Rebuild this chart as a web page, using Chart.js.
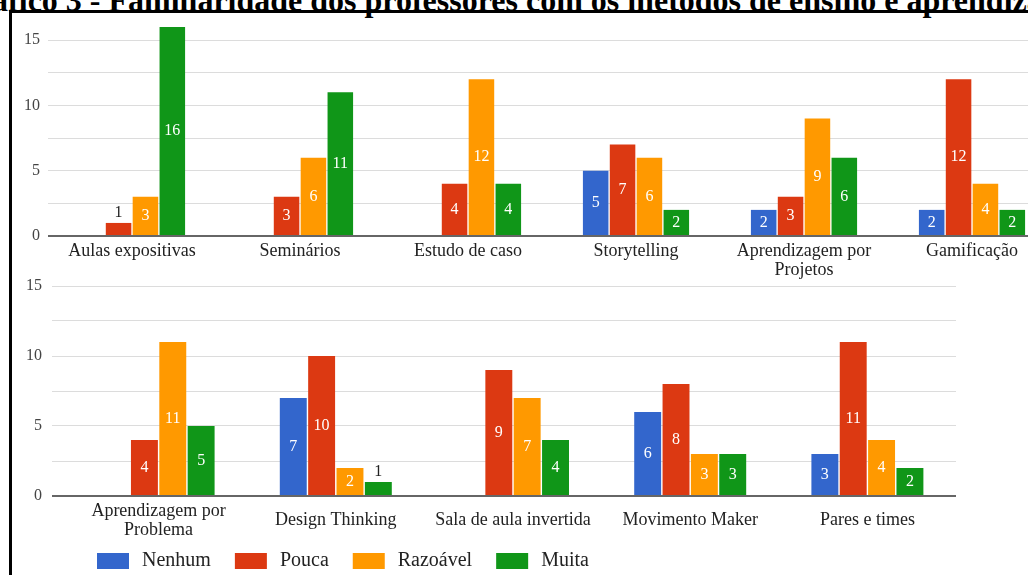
<!DOCTYPE html>
<html lang="pt">
<head>
<meta charset="utf-8">
<title>Familiaridade dos professores com os métodos de ensino e aprendizagem</title>
<script src="https://cdn.jsdelivr.net/npm/chart.js@4/dist/chart.umd.min.js"></script>
<style>
  html, body { margin: 0; padding: 0; background: #fff; }
  body { width: 1028px; height: 575px; overflow: hidden; position: relative; }
  #caption {
    position: absolute; left: -47px; top: -18px; line-height: 32px;
    white-space: nowrap; font: bold 32px "Liberation Serif", serif; color: #000;
  }
  #frame {
    position: absolute; left: 9px; top: 10px; width: 1040px; height: 600px;
    border-top: 3px solid #000; border-left: 3px solid #000;
  }
  #c1 { position: absolute; left: 0; top: 0; }
  #c2 { position: absolute; left: 0; top: 250px; }
</style>
</head>
<body>
<div id="caption">Gráfico 3 - Familiaridade dos professores com os métodos de ensino e aprendizagem</div>
<div id="frame"></div>
<canvas id="c1" width="1060" height="290"></canvas>
<canvas id="c2" width="1028" height="325"></canvas>
<script>
// Familiarity levels and their colours
const seriesNames = ['Nenhum', 'Pouca', 'Razoável', 'Muita'];
const seriesColors = ['#3366cc', '#dc3912', '#ff9900', '#109618'];

// First row of teaching methods
const topCategories = ['Aulas expositivas', 'Seminários', 'Estudo de caso', 'Storytelling',
  ['Aprendizagem por', 'Projetos'], 'Gamificação'];
const topNenhum   = [0, 0, 0, 5, 2, 2];
const topPouca    = [1, 3, 4, 7, 3, 12];
const topRazoavel = [3, 6, 12, 6, 9, 4];
const topMuita    = [16, 11, 4, 2, 6, 2];

// Second row of teaching methods
const bottomCategories = [['Aprendizagem por', 'Problema'], 'Design Thinking',
  'Sala de aula invertida', 'Movimento Maker', 'Pares e times'];
const bottomNenhum   = [0, 7, 0, 6, 3];
const bottomPouca    = [4, 10, 9, 8, 11];
const bottomRazoavel = [11, 2, 7, 3, 4];
const bottomMuita    = [5, 1, 4, 3, 2];

// Value axis: grid every 2.5, labels every 5
const gridValues = [0, 2.5, 5, 7.5, 10, 12.5, 15];
const tickLabels = [0, 5, 10, 15];

const SERIF = '"Liberation Serif", "Times New Roman", serif';

// Writes each bar's value inside it, or just above it when the bar is too short
const valueLabels = {
  id: 'valueLabels',
  afterDatasetsDraw(chart) {
    const ctx = chart.ctx;
    ctx.save();
    ctx.font = '16px ' + SERIF;
    ctx.textAlign = 'center';
    chart.data.datasets.forEach((ds, di) => {
      chart.getDatasetMeta(di).data.forEach((bar, i) => {
        const v = ds.data[i];
        if (!v) return;
        const h = bar.base - bar.y;
        if (h >= 20) {
          ctx.fillStyle = '#ffffff';
          ctx.textBaseline = 'middle';
          ctx.fillText(String(v), bar.x, (bar.y + bar.base) / 2);
        } else {
          ctx.fillStyle = '#222222';
          ctx.textBaseline = 'bottom';
          ctx.fillText(String(v), bar.x, bar.y - 2);
        }
      });
    });
    ctx.restore();
  }
};

// One-row legend: a colour box and the series name for every dataset
const legendRow = {
  id: 'legendRow',
  afterDraw(chart, args, opts) {
    const ctx = chart.ctx;
    ctx.save();
    ctx.font = opts.font;
    ctx.textAlign = 'left';
    ctx.textBaseline = 'middle';
    let x = opts.x;
    chart.data.datasets.forEach(ds => {
      ctx.fillStyle = ds.backgroundColor;
      ctx.fillRect(x, opts.y - opts.boxHeight / 2, opts.boxWidth, opts.boxHeight);
      x += opts.boxWidth + opts.textGap;
      ctx.fillStyle = opts.color;
      ctx.fillText(ds.label, x, opts.y);
      x += ctx.measureText(ds.label).width + opts.itemGap;
    });
    ctx.restore();
  }
};

function makeDatasets(cols) {
  return cols.map((data, k) => ({
    label: seriesNames[k],
    data: data,
    backgroundColor: seriesColors[k],
    borderWidth: 0,
    categoryPercentage: 0.64,
    barPercentage: 0.95
  }));
}

function yScale(width, tickLen, pad) {
  return {
    min: 0,
    max: 17,
    afterBuildTicks(scale) { scale.ticks = gridValues.map(v => ({ value: v })); },
    afterFit(scale) {
      scale.width = width;
      scale.paddingTop = 0;
      scale.paddingBottom = 0;
    },
    ticks: {
      callback: v => tickLabels.includes(v) ? String(v) : '',
      font: { family: SERIF, size: 16 },
      color: '#444',
      padding: pad
    },
    grid: {
      color: c => c.tick && c.tick.value === 0 ? '#666' : '#dcdcdc',
      lineWidth: c => c.tick && c.tick.value === 0 ? 2 : 1,
      drawTicks: tickLen > 0,
      tickLength: tickLen
    },
    border: { display: false }
  };
}

function xScale(height, crossAlign, pad) {
  return {
    afterFit(scale) {
      scale.height = height;
      scale.paddingLeft = 0;
      scale.paddingRight = 0;
    },
    grid: { display: false, drawTicks: false },
    border: { display: false },
    ticks: {
      autoSkip: false,
      maxRotation: 0,
      padding: pad,
      crossAlign: crossAlign,
      font: { family: SERIF, size: 18, lineHeight: 1.05 },
      color: '#222'
    }
  };
}

Chart.defaults.font.family = SERIF;

new Chart(document.getElementById('c1'), {
  type: 'bar',
  data: {
    labels: topCategories,
    datasets: makeDatasets([topNenhum, topPouca, topRazoavel, topMuita])
  },
  options: {
    responsive: false,
    animation: false,
    layout: { autoPadding: false, padding: { top: 14, right: 4, left: 0, bottom: 0 } },
    plugins: { legend: { display: false }, tooltip: { enabled: false } },
    scales: { x: xScale(54, 'near', 6), y: yScale(48, 0, 8) }
  },
  plugins: [valueLabels]
});

new Chart(document.getElementById('c2'), {
  type: 'bar',
  data: {
    labels: bottomCategories,
    datasets: makeDatasets([bottomNenhum, bottomPouca, bottomRazoavel, bottomMuita])
  },
  options: {
    responsive: false,
    animation: false,
    layout: { autoPadding: false, padding: { top: 8, right: 72, left: 0, bottom: 0 } },
    plugins: {
      tooltip: { enabled: false },
      legend: { display: false },
      legendRow: {
        x: 97, y: 311,
        boxWidth: 32, boxHeight: 16,
        textGap: 13, itemGap: 24,
        font: '20px ' + SERIF,
        color: '#222'
      }
    },
    scales: { x: xScale(79, 'center', 15), y: yScale(70, 18, 10) }
  },
  plugins: [valueLabels, legendRow]
});
</script>
</body>
</html>
